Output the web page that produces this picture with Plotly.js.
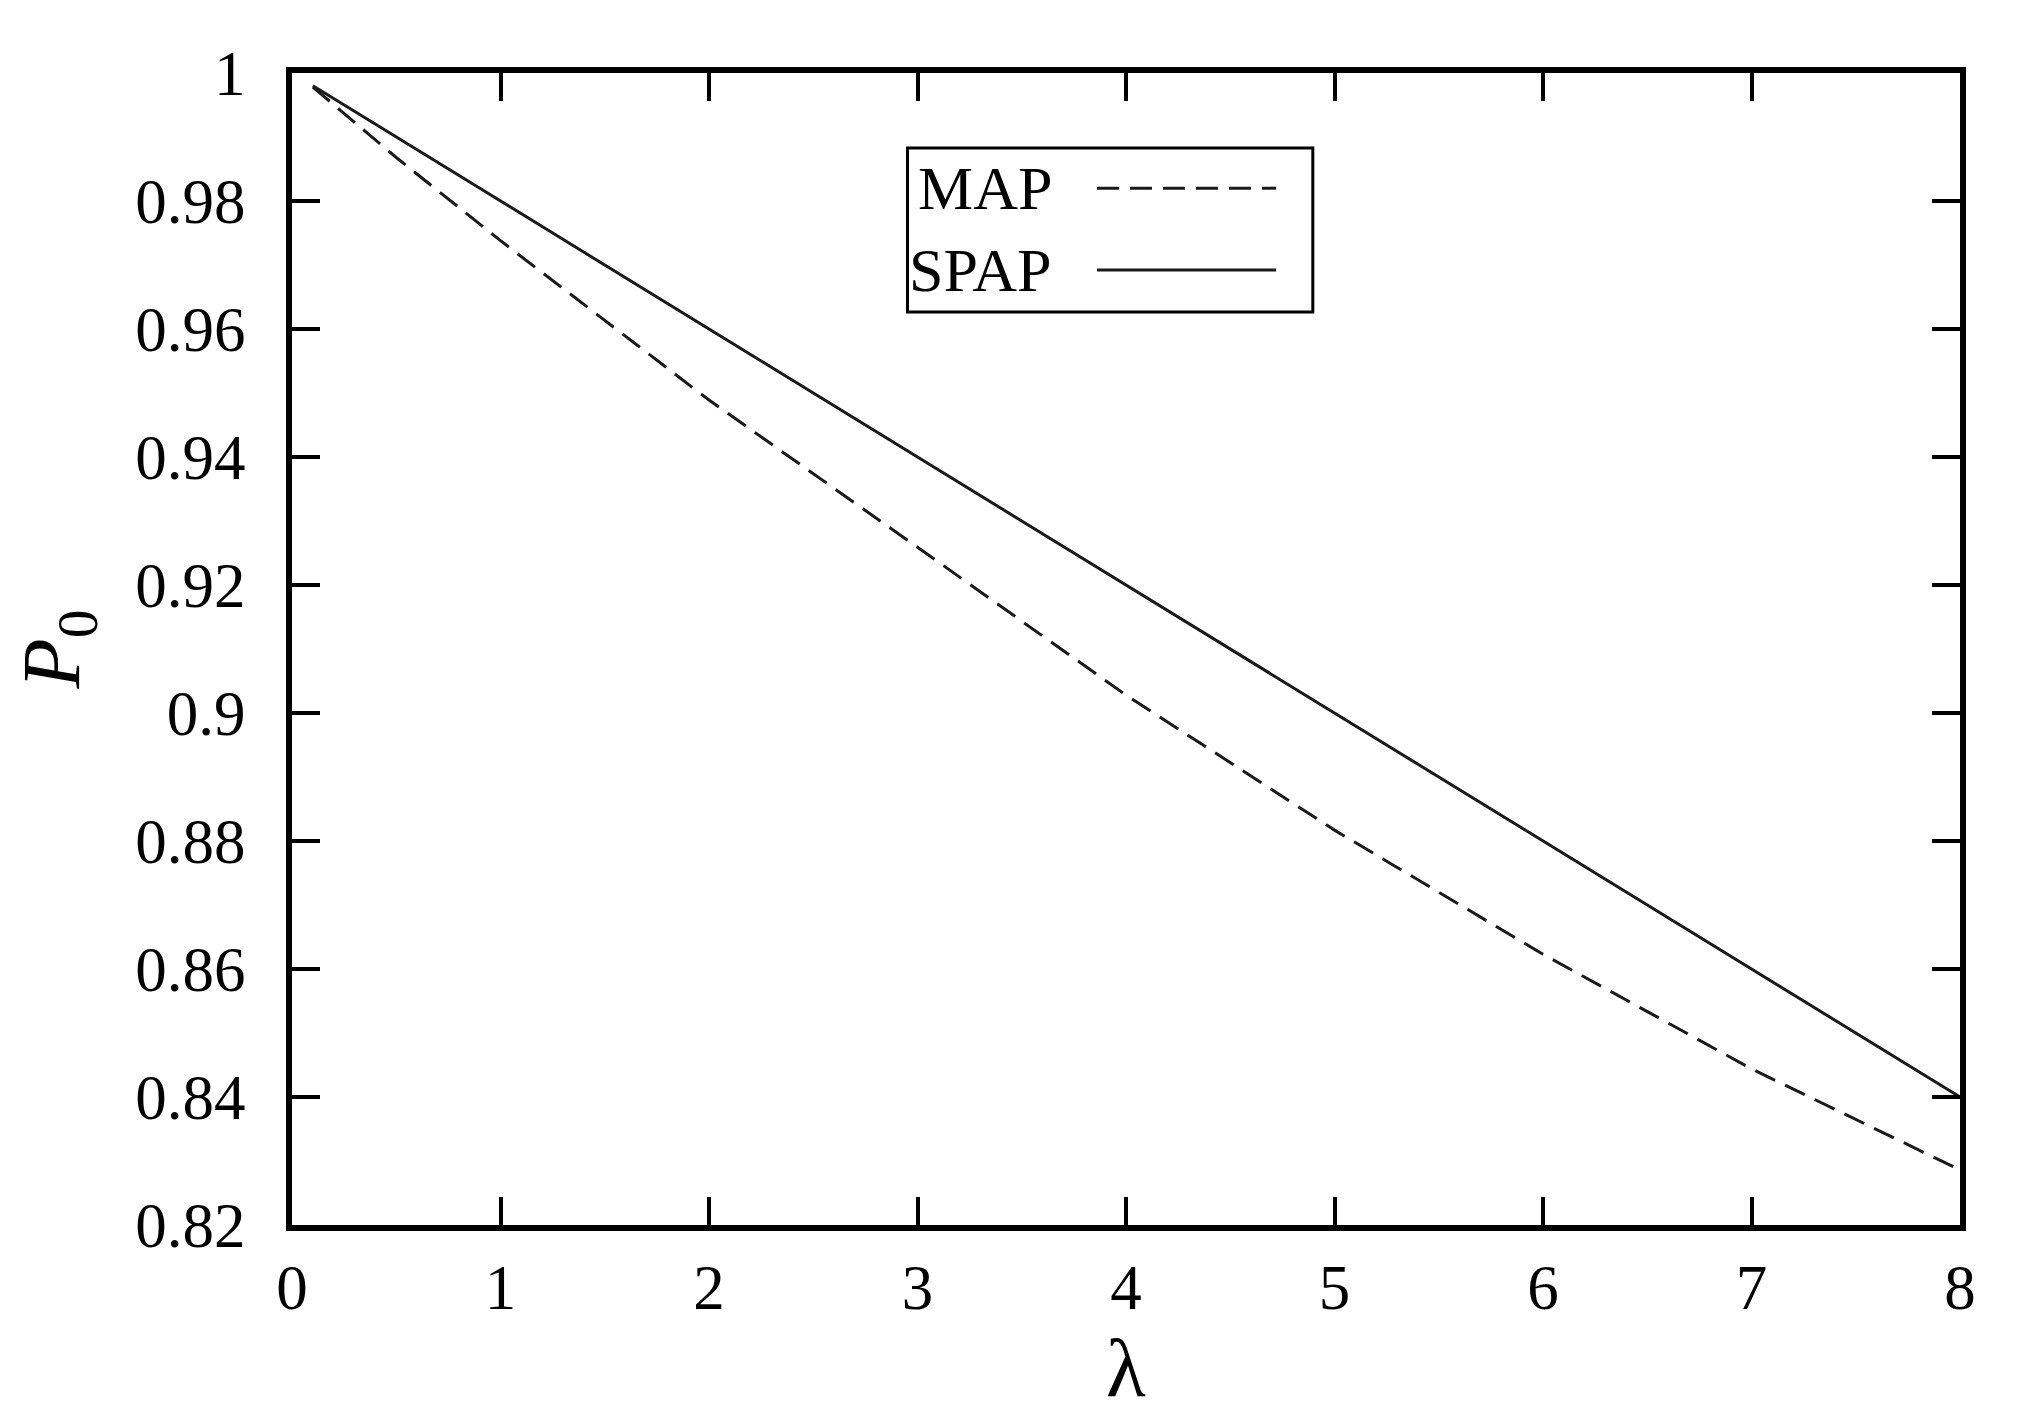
<!DOCTYPE html>
<html>
<head>
<meta charset="utf-8">
<script src="https://cdn.plot.ly/plotly-3.0.1.min.js"></script>
<style>
  html, body { margin: 0; padding: 0; background: #fff; }
  #lineChart { width: 2020px; height: 1417px; }
</style>
</head>
<body>
<div id="lineChart"></div>
<script>
// values
var lambdaValues = [0.1, 0.5, 1, 2, 3, 4, 5, 6, 7, 8];
var mapValues = [0.9978, 0.9868, 0.9738, 0.9489, 0.9259, 0.9028, 0.8817, 0.8623, 0.8444, 0.8286];
var spapValues = [0.9980, 0.9900, 0.9800, 0.9600, 0.9400, 0.9200, 0.9000, 0.8800, 0.8600, 0.8400];

var seriesNames = ['MAP', 'SPAP'];
var seriesDash = ['22px,11px', 'solid'];

var xTickVals = [0, 1, 2, 3, 4, 5, 6, 7, 8];
var yTickVals = [0.82, 0.84, 0.86, 0.88, 0.9, 0.92, 0.94, 0.96, 0.98, 1];
var yTickText = ['0.82', '0.84', '0.86', '0.88', '0.9', '0.92', '0.94', '0.96', '0.98', '1'];

var lineColor = '#1a1a1a';
var serif = 'Liberation Serif, Times New Roman, serif';

function makeTrace(name, yValues, dash) {
  return {
    x: lambdaValues,
    y: yValues,
    mode: 'lines',
    name: name,
    line: { color: lineColor, width: 3, dash: dash },
    showlegend: false
  };
}

function axisStyle() {
  return {
    showline: true,
    linecolor: '#000',
    linewidth: 6,
    mirror: 'ticks',
    ticks: 'inside',
    ticklen: 28,
    tickwidth: 4,
    tickcolor: '#000',
    showgrid: false,
    zeroline: false,
    tickfont: { family: serif, size: 63, color: '#000' }
  };
}

var data = [
  makeTrace(seriesNames[0], mapValues, seriesDash[0]),
  makeTrace(seriesNames[1], spapValues, seriesDash[1])
];

var xaxis = axisStyle();
xaxis.range = [0, 8];
xaxis.tickvals = xTickVals;
xaxis.ticklabelstandoff = 2;
xaxis.title = { text: 'λ', font: { family: serif, size: 82, color: '#000' }, standoff: 0 };

var yaxis = axisStyle();
yaxis.range = [0.82, 1];
yaxis.tickvals = yTickVals;
yaxis.ticktext = yTickText;
yaxis.ticklabelstandoff = 28;
yaxis.title = { text: '<i>P</i><sub>0</sub>', font: { family: serif, size: 82, color: '#000' }, standoff: 30 };

// legend box drawn in the gnuplot way: label first, sample after it
var legendBox = { x0: 0.369, x1: 0.612, y0: 0.7925, y1: 0.935 };
var legendRowsY = [0.900, 0.829];
var shapes = [{
  type: 'rect', xref: 'paper', yref: 'paper',
  x0: legendBox.x0, x1: legendBox.x1, y0: legendBox.y0, y1: legendBox.y1,
  line: { color: '#000', width: 3 }, fillcolor: 'rgba(0,0,0,0)'
}];
var annotations = [];
for (var i = 0; i < seriesNames.length; i++) {
  annotations.push({
    xref: 'paper', yref: 'paper', x: 0.457, y: legendRowsY[i],
    xanchor: 'right', yanchor: 'middle', showarrow: false,
    text: seriesNames[i],
    font: { family: serif, size: 62, color: '#000' }
  });
  shapes.push({
    type: 'line', xref: 'paper', yref: 'paper',
    x0: 0.4826, x1: 0.590, y0: legendRowsY[i], y1: legendRowsY[i],
    line: { color: lineColor, width: 3, dash: seriesDash[i] }
  });
}

var layout = {
  width: 2020,
  height: 1417,
  margin: { l: 292, r: 60, t: 73, b: 192 },
  paper_bgcolor: '#fff',
  plot_bgcolor: '#fff',
  showlegend: false,
  xaxis: xaxis,
  yaxis: yaxis,
  shapes: shapes,
  annotations: annotations
};

Plotly.newPlot('lineChart', data, layout, { displayModeBar: false, staticPlot: true });
</script>
</body>
</html>
